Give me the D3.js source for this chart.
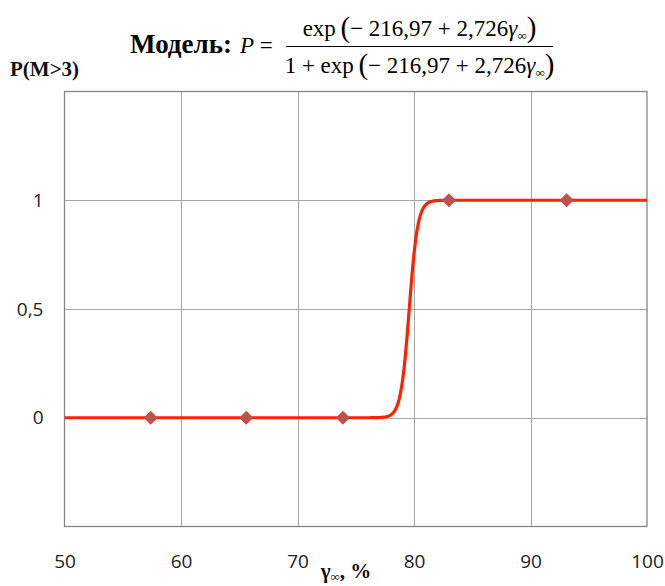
<!DOCTYPE html>
<html>
<head>
<meta charset="utf-8">
<script src="https://cdn.jsdelivr.net/npm/d3@7/dist/d3.min.js"></script>
<style>
  html, body { margin: 0; padding: 0; background: #fff; }
  svg { display: block; }
</style>
</head>
<body>
<svg id="chart" width="665" height="586"></svg>
<script>
// Observed points: degree of compaction (%) and whether M > 3 (0/1)
const gammaValues = [57.4, 65.6, 73.9, 83.0, 93.1];
const outcomeValues = [0, 0, 0, 1, 1];

// Logistic model coefficients shown in the title
const b0 = -216.97;
const b1 = 2.726;

// Axis ticks
const xTicks = [50, 60, 70, 80, 90, 100];
const yTicks = [0, 0.5, 1];

const W = 665, H = 586;
const plot = { left: 64.5, right: 647, top: 91.5, bottom: 526.5 };

const svg = d3.select("#chart");

const x = d3.scaleLinear().domain([50, 100]).range([plot.left, plot.right]);
const y = d3.scaleLinear().domain([-0.5, 1.5]).range([plot.bottom, plot.top]);

const ru = d3.formatLocale({ decimal: ",", thousands: "\u00a0", grouping: [3], currency: ["", ""] });
const fmt = v => ru.format("~g")(v);

// Grid lines
const grid = svg.append("g");
grid.selectAll("line.v")
  .data(xTicks.filter(t => t > 50 && t < 100))
  .join("line")
  .attr("x1", d => Math.round(x(d)) + 0.5).attr("x2", d => Math.round(x(d)) + 0.5)
  .attr("y1", plot.top).attr("y2", plot.bottom)
  .attr("stroke", "#a6a6a6").attr("stroke-width", 1);
grid.selectAll("line.h")
  .data(yTicks)
  .join("line")
  .attr("x1", plot.left).attr("x2", plot.right)
  .attr("y1", d => Math.round(y(d)) + 0.5).attr("y2", d => Math.round(y(d)) + 0.5)
  .attr("stroke", "#a6a6a6").attr("stroke-width", 1);

// Plot frame
svg.append("rect")
  .attr("x", plot.left).attr("y", plot.top)
  .attr("width", plot.right - plot.left).attr("height", plot.bottom - plot.top)
  .attr("fill", "none").attr("stroke", "#868686").attr("stroke-width", 1.3);

// Axes (labels only)
const tickFont = "'Open Sans', 'Liberation Sans', sans-serif";
const xAxis = svg.append("g")
  .attr("transform", `translate(0,${plot.bottom})`)
  .call(d3.axisBottom(x).tickValues(xTicks).tickSize(0).tickPadding(28).tickFormat(fmt));
const yAxis = svg.append("g")
  .attr("transform", `translate(${plot.left},0)`)
  .call(d3.axisLeft(y).tickValues(yTicks).tickSize(0).tickPadding(21).tickFormat(fmt));
[xAxis, yAxis].forEach(a => {
  a.select(".domain").remove();
  a.selectAll("text")
    .attr("font-family", tickFont).attr("font-size", 19).attr("fill", "#222");
});

// Model curve
const curveData = d3.range(50, 100.001, 0.05).map(g => {
  const e = Math.exp(b0 + b1 * g);
  return [g, e / (1 + e)];
});
svg.append("clipPath").attr("id", "clip")
  .append("rect")
  .attr("x", plot.left).attr("y", plot.top)
  .attr("width", plot.right - plot.left).attr("height", plot.bottom - plot.top);
svg.append("path")
  .datum(curveData)
  .attr("clip-path", "url(#clip)")
  .attr("fill", "none")
  .attr("stroke", "#ff2200")
  .attr("stroke-width", 3.2)
  .attr("stroke-linejoin", "round")
  .attr("d", d3.line().x(d => x(d[0])).y(d => y(d[1])).curve(d3.curveLinear));

// Observed markers (diamonds)
const diamond = d3.symbol().type(d3.symbolSquare).size(100);
svg.append("g").selectAll("path")
  .data(gammaValues.map((g, i) => [g, outcomeValues[i]]))
  .join("path")
  .attr("d", diamond)
  .attr("transform", d => `translate(${x(d[0])},${y(d[1])}) rotate(45)`)
  .attr("fill", "#c0504d");

// Y-axis title
const serif = "'Liberation Serif', 'Times New Roman', serif";
svg.append("text")
  .attr("x", 10).attr("y", 76)
  .attr("font-family", serif).attr("font-weight", "bold").attr("font-size", 21)
  .attr("fill", "#111")
  .text("P(M>3)");

// X-axis title: γ∞, %
const xt = svg.append("text")
  .attr("x", 346).attr("y", 578)
  .attr("text-anchor", "middle")
  .attr("font-family", serif).attr("font-weight", "bold").attr("font-size", 21)
  .attr("fill", "#111");
xt.append("tspan").text("γ");
xt.append("tspan").attr("font-size", 13).attr("dy", 3).text("∞");
xt.append("tspan").attr("dy", -3).text(", %");

// Title: Модель: P = exp(...) / (1 + exp(...))
svg.append("text")
  .attr("x", 130).attr("y", 53)
  .attr("font-family", serif).attr("font-weight", "bold").attr("font-size", 27)
  .attr("fill", "#000")
  .text("Модель:");
const pEq = svg.append("text")
  .attr("x", 240).attr("y", 53)
  .attr("font-family", serif).attr("font-size", 23).attr("fill", "#000");
pEq.append("tspan").attr("font-style", "italic").text("P");
pEq.append("tspan").text(" =");

const fracLeft = 286, fracRight = 553;
svg.append("line")
  .attr("x1", fracLeft).attr("x2", fracRight)
  .attr("y1", 46.5).attr("y2", 46.5)
  .attr("stroke", "#000").attr("stroke-width", 1.2);

function expression(baseline, prefix) {
  const t = svg.append("text")
    .attr("y", baseline)
    .attr("font-family", serif).attr("font-size", 23).attr("fill", "#000");
  t.append("tspan").text(prefix + "exp\u2009");
  t.append("tspan").attr("font-size", 29).attr("dy", 1).text("(");
  t.append("tspan").attr("font-size", 23).attr("dy", -1).text("\u2212 216,97 + 2,726");
  t.append("tspan").attr("font-style", "italic").text("γ");
  t.append("tspan").attr("font-size", 13).attr("dy", 4).text("∞");
  t.append("tspan").attr("font-size", 29).attr("dy", -3).text(")");
  const w = t.node().getComputedTextLength();
  t.attr("x", (fracLeft + fracRight) / 2 - w / 2);
  return t;
}
expression(36, "");
expression(73, "1 + ");
</script>
</body>
</html>
